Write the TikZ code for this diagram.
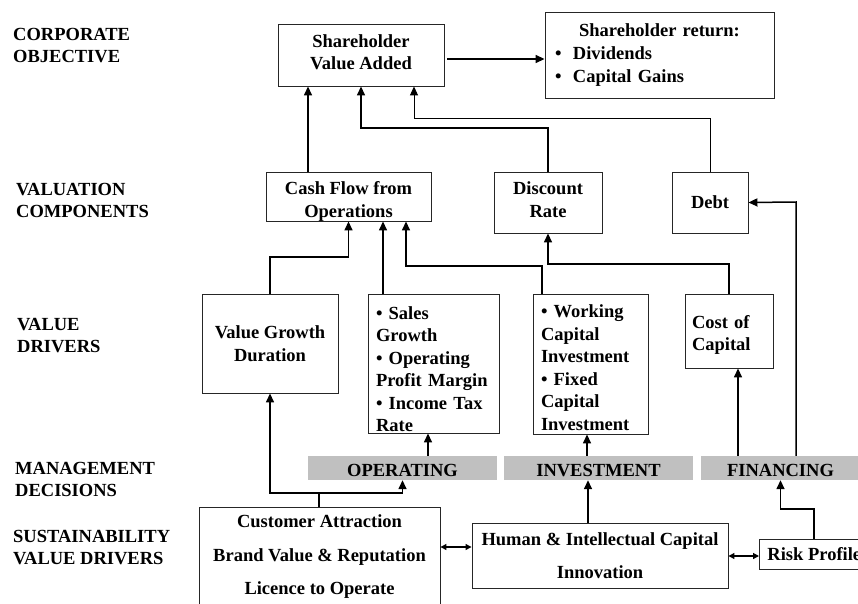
\documentclass[tikz,border=0pt]{standalone}
\usepackage{fontspec}
\setmainfont{Liberation Serif}
\usetikzlibrary{arrows.meta}
\definecolor{bargray}{RGB}{192,192,192}
\newcommand{\tall}[1]{\rule{0pt}{#1}}
\newcommand{\deep}[1]{\rule[-#1]{0pt}{#1}}
\begin{document}
\begin{tikzpicture}[x=1pt,y=-1pt,
  every node/.style={font=\fontsize{18.5}{22.5}\selectfont\bfseries},
  box/.style={draw=black!85, line width=0.9pt, inner sep=0pt, align=center},
  lbox/.style={box, align=left, inner xsep=8pt},
  bar/.style={fill=bargray, inner sep=0pt, minimum height=24pt, text height=16pt, text depth=0pt},
  lab/.style={anchor=north west, align=left, inner sep=0pt},
  arr/.style={line width=1.5pt, -{Triangle[length=9pt,width=8pt]}},
  thinarr/.style={line width=0.9pt, -{Triangle[length=9pt,width=8pt]}},
  plain/.style={line width=1.5pt},
  dbl/.style={line width=1.2pt, {Triangle[length=6pt,width=6pt]}-{Triangle[length=6pt,width=6pt]}},
]
\useasboundingbox (0,0) rectangle (858,604);

% left labels
\node[lab] (lcorp) at (13,28) {CORPORATE\\OBJECTIVE};
\node[lab] (lval) at (16,183) {VALUATION\\COMPONENTS};
\node[lab] (ldrv) at (17,318) {VALUE\\DRIVERS};
\node[lab] (lmgt) at (15,462) {MANAGEMENT\\DECISIONS};
\node[lab] (lsus) at (13,530) {SUSTAINABILITY\\VALUE DRIVERS};

% top row
\node[box, minimum width=166pt, minimum height=62pt] (sva) at (361,55) {Shareholder\\Value Added\deep{6pt}};
\node[box, minimum width=229pt, minimum height=86pt, text width=209pt, align=left, inner xsep=10pt,
      font=\fontsize{18.5}{23}\selectfont\bfseries] (ret) at (659.5,55)
  {\makebox[209pt][c]{Shareholder return:}\\\makebox[18pt][l]{•}Dividends\\\makebox[18pt][l]{•}Capital Gains};

% valuation components
\node[box, minimum width=165pt, minimum height=49pt] (cf) at (348.5,196.5) {\tall{22.6pt}Cash Flow from\\Operations};
\node[box, minimum width=108pt, minimum height=61pt] (dr) at (548,202.5) {Discount\\Rate\deep{6pt}};
\node[box, minimum width=76pt, minimum height=61pt] (debt) at (710,202.5) {Debt};

% value drivers
\node[box, minimum width=136pt, minimum height=99pt] (vg) at (270,343.5) {Value Growth\\Duration};
\node[lbox, text width=115pt, minimum width=131pt, minimum height=139pt] (sales) at (433.5,363.5)
  {\tall{24.6pt}• Sales\\Growth\\• Operating\\Profit Margin\\• Income Tax\\Rate};
\node[lbox, text width=99pt, minimum width=115pt, minimum height=140pt] (wc) at (590.5,364)
  {\tall{20.6pt}• Working\\Capital\\Investment\\• Fixed\\Capital\\Investment};
\node[lbox, inner xsep=7pt, text width=74pt, minimum width=88pt, minimum height=74pt] (coc) at (729,331)
  {\tall{20.6pt}Cost of\\Capital};

% management decisions
\node[bar, minimum width=189pt] (op) at (402.5,468) {OPERATING};
\node[bar, minimum width=189pt] (inv) at (598.5,468) {INVESTMENT};
\node[bar, minimum width=159pt] (fin) at (780.5,468) {FINANCING};

% sustainability drivers
\node[box, minimum width=241pt, minimum height=100pt, font=\fontsize{18.5}{33.5}\selectfont\bfseries] (cust) at (319.5,557)
  {Customer Attraction\\Brand Value \& Reputation\\Licence to Operate};
\node[box, minimum width=256pt, minimum height=65pt, font=\fontsize{18.5}{33}\selectfont\bfseries] (human) at (600,555.5)
  {Human \& Intellectual Capital\\Innovation};
\node[box, anchor=west, minimum height=30pt, inner xsep=8pt] (risk) at (759,554) {Risk Profile};

% connectors
\draw[arr] ([yshift=-4pt]sva.east) ++(3,0) -- (ret.west |- 0,59);
\draw[arr] (cf.north -| 308,0) -- (sva.south -| 308,0);
\draw[arr] (dr.north) -- (548,128) -| (sva.south);
\draw[thinarr] (debt.north) -- (710,118) -- (414,118) -- (sva.south -| 414,0);

\draw[arr] (vg.north) |- (300,257) -| (cf.south);
\draw[arr] (sales.north -| 383,0) -- (cf.south -| 383,0);
\draw[arr] (wc.north -| 542,0) -- (542,266) -- (406,266) -- (cf.south -| 406,0);
\draw[arr] (coc.north) -- (729,264) -| (dr.south);
\draw[arr] (fin.north -| 796,0) -- (796,202) -- (debt.east);

\draw[arr] (op.north -| 428,0) -- (sales.south -| 428,0);
\draw[arr] (inv.north -| 587,0) -- (wc.south -| 587,0);
\draw[arr] (fin.north -| 738,0) -- (coc.south -| 738,0);

\coordinate (j) at (319,493);
\draw[plain] (cust.north -| j) -- (j);
\draw[arr] (j) -| (vg.south);
\draw[arr] (j) -| (op.south);
\draw[arr] (human.north -| 588,0) -- (inv.south -| 588,0);
\draw[arr] (risk.north -| 814,0) -- (814,509) -| (fin.south);

\draw[dbl] (cust.east |- 0,547) -- (human.west |- 0,547);
\draw[dbl] (human.east |- 0,556) -- (risk.west |- 0,556);
\end{tikzpicture}
\end{document}
